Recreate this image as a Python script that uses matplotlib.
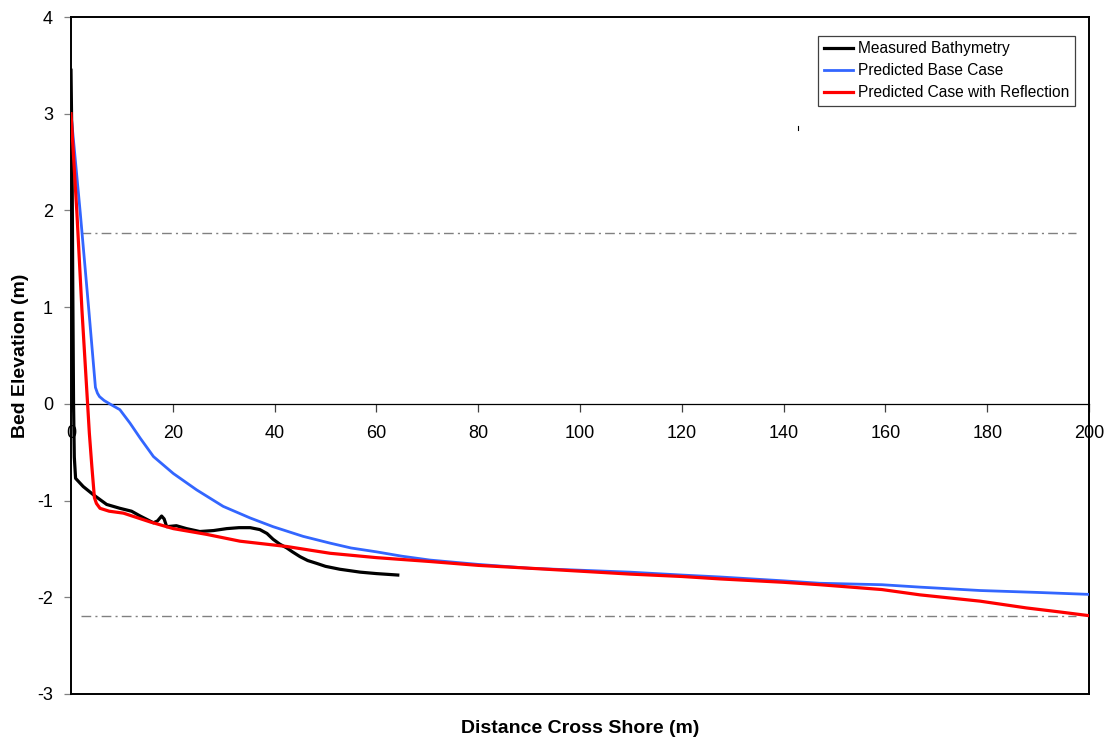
import matplotlib
matplotlib.use("Agg")
import matplotlib.pyplot as plt
from matplotlib.lines import Line2D

plt.rcParams['font.family'] = ['Liberation Sans', 'DejaVu Sans']
plt.rcParams['axes.unicode_minus'] = False

# ---- data ----
meas_x = [0.0, 0.2, 0.35, 0.5, 0.65, 0.9, 2.4, 4.4, 7.0, 9.6, 11.9, 13.6, 16.2, 17.0,
          17.8, 18.3, 18.8, 20.7, 22.7, 25.3, 28.0, 30.6, 33.0, 35.2, 37.1, 38.5, 39.7,
          41.0, 42.4, 43.5, 45.0, 46.5, 48.3, 50.0, 52.8, 56.8, 60.0, 64.2]
meas_y = [3.45, 2.6, 1.2, 0.0, -0.55, -0.77, -0.855, -0.94, -1.04, -1.08, -1.11, -1.16,
          -1.23, -1.21, -1.16, -1.19, -1.27, -1.26, -1.29, -1.32, -1.31, -1.29, -1.28,
          -1.28, -1.30, -1.34, -1.40, -1.45, -1.49, -1.53, -1.58, -1.62, -1.65, -1.68,
          -1.71, -1.74, -1.755, -1.77]

base_x = [0.0, 1.82, 3.5, 4.8, 5.2, 5.6, 6.5, 7.6, 9.6, 11.6, 13.6, 16.2, 20.1, 24.7,
          29.9, 35.2, 39.7, 45.6, 50.9, 55.0, 60.0, 65.0, 70.5, 80.0, 90.2, 100.0,
          109.8, 120.0, 127.5, 140.0, 147.1, 159.3, 166.8, 178.6, 190.0, 200.0]
base_y = [3.0, 1.975, 0.97, 0.17, 0.11, 0.075, 0.035, 0.0, -0.06, -0.2, -0.355, -0.545,
          -0.72, -0.89, -1.06, -1.18, -1.27, -1.37, -1.44, -1.49, -1.53, -1.575, -1.615,
          -1.66, -1.70, -1.72, -1.74, -1.77, -1.79, -1.83, -1.855, -1.87, -1.895, -1.93,
          -1.95, -1.97]

refl_x = [0.0, 1.16, 2.15, 3.26, 3.6, 4.1, 4.6, 5.0, 5.7, 7.5, 10.3, 15.5, 20.1, 26.7,
          33.2, 42.4, 50.9, 60.0, 70.5, 80.0, 90.2, 100.0, 109.8, 120.0, 127.5, 140.0,
          147.1, 152.0, 159.3, 166.8, 178.6, 187.7, 194.0, 200.0]
refl_y = [3.0, 1.975, 0.97, 0.0, -0.3, -0.65, -0.97, -1.03, -1.08, -1.11, -1.13, -1.22,
          -1.29, -1.35, -1.42, -1.475, -1.545, -1.59, -1.63, -1.67, -1.70, -1.73, -1.76,
          -1.785, -1.81, -1.845, -1.87, -1.89, -1.92, -1.975, -2.04, -2.11, -2.15, -2.19]

upper_level = 1.77
lower_level = -2.19
level_x = [2.0, 197.5]

stray_x = [142.8, 142.8]
stray_y = [2.83, 2.87]

x_ticks = [0, 20, 40, 60, 80, 100, 120, 140, 160, 180, 200]
y_ticks = [-3, -2, -1, 0, 1, 2, 3, 4]

labels = ["Measured Bathymetry", "Predicted Base Case", "Predicted Case with Reflection"]

# ---- figure ----
fig = plt.figure(figsize=(11.14, 7.40), dpi=100)
ax = fig.add_axes([71/1114, 1 - 694/740, 1018/1114, 677/740])

ax.plot(level_x, [upper_level]*2, color='#808080', lw=1.0, dashes=(7, 3, 1.5, 3))
ax.plot(level_x, [lower_level]*2, color='#808080', lw=1.0, dashes=(7, 3, 1.5, 3))

l1, = ax.plot(meas_x, meas_y, color='black', lw=2.3, label=labels[0], zorder=4,
              solid_joinstyle='round')
l2, = ax.plot(base_x, base_y, color='#3366FF', lw=2.0, label=labels[1], zorder=3,
              solid_joinstyle='round')
l3, = ax.plot(refl_x, refl_y, color='#FF0000', lw=2.3, label=labels[2], zorder=5,
              solid_joinstyle='round')
ax.plot(stray_x, stray_y, color='black', lw=0.8)

ax.set_xlim(0, 200)
ax.set_ylim(-3, 4)

# frame
for s in ['left', 'right', 'top']:
    ax.spines[s].set_linewidth(1.4)
    ax.spines[s].set_color('black')
ax.spines['bottom'].set_position(('data', 0))
ax.spines['bottom'].set_linewidth(0.9)
ax.spines['bottom'].set_color('black')
ax.add_line(Line2D([0, 1], [0, 0], transform=ax.transAxes, color='black', lw=1.4,
                   clip_on=False, zorder=6))

ax.set_xticks(x_ticks)
ax.set_yticks(y_ticks)
ax.tick_params(axis='x', direction='out', length=6, width=0.9, color='#404040',
               labelsize=13, pad=9)
ax.tick_params(axis='y', direction='out', length=5, width=0.9, color='#808080',
               labelsize=13, pad=8)

ax.set_xlabel("Distance Cross Shore (m)", fontsize=14, fontweight='bold')
ax.set_ylabel("Bed Elevation (m)", fontsize=14, fontweight='bold')
ax.xaxis.set_label_coords(0.5, -0.039)
ax.yaxis.set_label_coords(-0.041, 0.5)

leg = ax.legend(handles=[l1, l2, l3], loc='upper right', bbox_to_anchor=(0.986, 0.972),
                fontsize=11.2, frameon=True, fancybox=False, framealpha=1,
                edgecolor='#404040', handlelength=1.9, handletextpad=0.3,
                borderpad=0.35, labelspacing=0.45, borderaxespad=0)
leg.get_frame().set_linewidth(0.9)

fig.savefig("out.png", dpi=100)
